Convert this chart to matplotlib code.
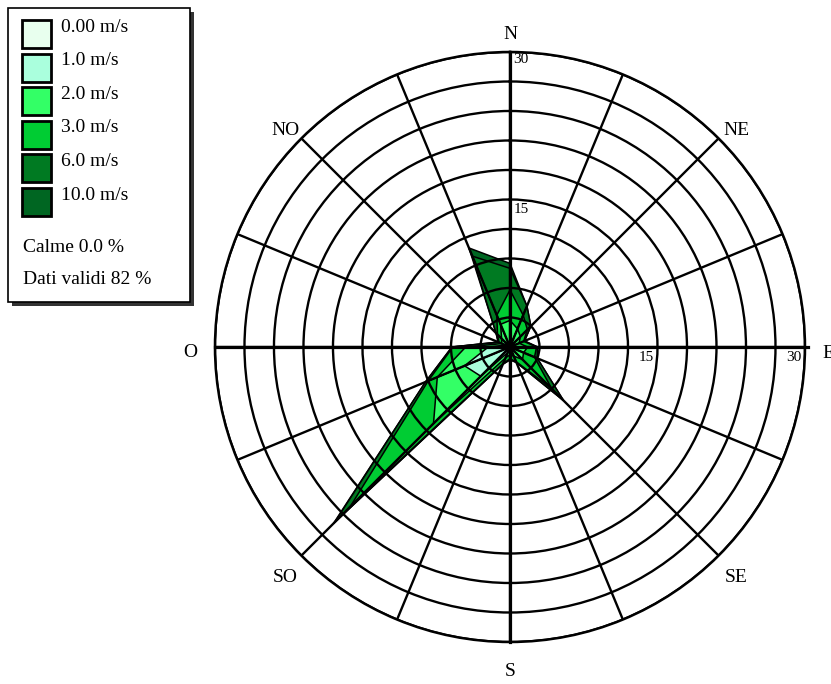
import numpy as np
import matplotlib
matplotlib.use("Agg")
import matplotlib.pyplot as plt
from matplotlib.patches import Rectangle

plt.rcParams['font.family'] = ['Liberation Serif', 'DejaVu Serif']

# 16 wind directions, clockwise from north
directions = ["N", "NNE", "NE", "ENE", "E", "ESE", "SE", "SSE",
              "S", "SSW", "SW", "WSW", "W", "WNW", "NW", "NNW"]

# frequency (%) per speed class and direction
freq_000 = [0.2, 0.2, 0.2, 0.2, 0.2, 0.2, 0.2, 0.2, 0.2, 0.2, 0.4, 0.5, 0.3, 0.2, 0.2, 0.2]
freq_010 = [0.3, 0.3, 0.3, 0.2, 0.3, 0.3, 0.4, 0.3, 0.3, 0.4, 3.8, 4.5, 1.9, 0.3, 0.3, 0.4]
freq_020 = [2.2, 1.5, 1.0, 0.6, 1.3, 1.0, 1.2, 0.5, 0.3, 0.6, 6.8, 3.0, 2.3, 0.4, 0.7, 1.9]
freq_030 = [3.1, 1.5, 1.0, 0.5, 0.9, 1.2, 4.2, 0.6, 0.4, 0.6, 12.0, 1.0, 1.3, 0.3, 0.6, 1.0]
freq_060 = [2.2, 1.0, 0.5, 0.1, 0.1, 0.3, 1.7, 0.1, 0.1, 0.1, 2.2, 0.3, 0.1, 0.1, 0.2, 6.5]
freq_100 = [0.5, 0.0, 0.0, 0.0, 0.0, 0.0, 0.0, 0.0, 0.0, 0.0, 0.2, 0.0, 0.0, 0.0, 0.0, 0.9]

class_labels = ["0.00 m/s", "1.0 m/s", "2.0 m/s", "3.0 m/s", "6.0 m/s", "10.0 m/s"]
class_colors = ["#e8ffee", "#aaffdd", "#33ff66", "#00cc33", "#007a22", "#006622"]

calm_text = "Calme 0.0 %"
valid_text = "Dati validi 82 %"

compass_labels = ["N", "NE", "E", "SE", "S", "SO", "O", "NO"]
compass_angles = [0, 45, 90, 135, 180, 225, 270, 315]
compass_offsets = [(0, 17), (18, 8), (17, -7), (18, -22), (0, -30), (-16, -22), (-25, -6), (-16, 8)]

rmax = 30
ring_step = 3

fig = plt.figure(figsize=(8.31, 6.84), dpi=100)
ax = fig.add_axes([0.2587, 0.0614, 0.7100, 0.8626], projection='polar')
ax.set_theta_zero_location('N')
ax.set_theta_direction(-1)
ax.set_ylim(0, rmax)

theta = np.deg2rad(np.arange(16) * 22.5)
freqs = np.array([freq_000, freq_010, freq_020, freq_030, freq_060, freq_100])
cum = np.cumsum(freqs, axis=0)

# draw from the outermost class inwards, each sector as a triangle
for k in range(len(cum) - 1, -1, -1):
    r = cum[k]
    for i in range(16):
        j = (i + 1) % 16
        t2 = theta[j] if j > 0 else 2 * np.pi
        ax.fill([0, theta[i], t2], [0, r[i], r[j]], facecolor=class_colors[k],
                edgecolor='black', linewidth=1.1, zorder=1)

ax.set_rgrids(np.arange(ring_step, rmax + 1, ring_step), labels=[])
ax.set_thetagrids(np.arange(0, 360, 22.5), labels=[])
ax.tick_params(length=0)
ax.grid(True, color='black', linewidth=1.7)
ax.set_axisbelow(False)
ax.spines['polar'].set_linewidth(1.8)

# main cross
ax.plot([0, np.pi], [rmax, rmax], color='black', lw=2.3, zorder=3, clip_on=False)
ax.plot([np.pi / 2, 3 * np.pi / 2], [rmax + 0.3, rmax], color='black', lw=2.3, zorder=3, clip_on=False)

for lab, ang, off in zip(compass_labels, compass_angles, compass_offsets):
    ha = 'left' if lab == "E" else 'center'
    ax.annotate(lab, xy=(np.deg2rad(ang), rmax), xytext=off, textcoords='offset pixels',
                ha=ha, va='center', fontsize=14, annotation_clip=False)

for val, off_n, off_e in [(15, (11.5, -10.5), (-11, -11)), (30, (11, -8), (-11, -11))]:
    ax.annotate(str(val), xy=(0, val), xytext=off_n, textcoords='offset pixels',
                ha='center', va='center', fontsize=11, annotation_clip=False)
    ax.annotate(str(val), xy=(np.pi / 2, val), xytext=off_e, textcoords='offset pixels',
                ha='center', va='center', fontsize=11, annotation_clip=False)

# legend box in pixel coordinates
lg = fig.add_axes([0, 0, 1, 1])
lg.set_xlim(0, 831)
lg.set_ylim(684, 0)
lg.axis('off')
lg.patch.set_visible(False)
lg.add_patch(Rectangle((12, 12), 182, 294, facecolor='#333333', edgecolor='none'))
lg.add_patch(Rectangle((8, 8), 182, 294, facecolor='white', edgecolor='black', lw=1.2))
for n, (lab, col) in enumerate(zip(class_labels, class_colors)):
    y0 = 20 + n * 33.6
    lg.add_patch(Rectangle((22, y0), 29, 28, facecolor=col, edgecolor='black', lw=2))
    lg.text(61, y0 + 7, lab, fontsize=14, va='center', ha='left')
lg.text(23, 248, calm_text, fontsize=14, va='center', ha='left')
lg.text(23, 279, valid_text, fontsize=14, va='center', ha='left')

fig.savefig("out.png", dpi=100)
